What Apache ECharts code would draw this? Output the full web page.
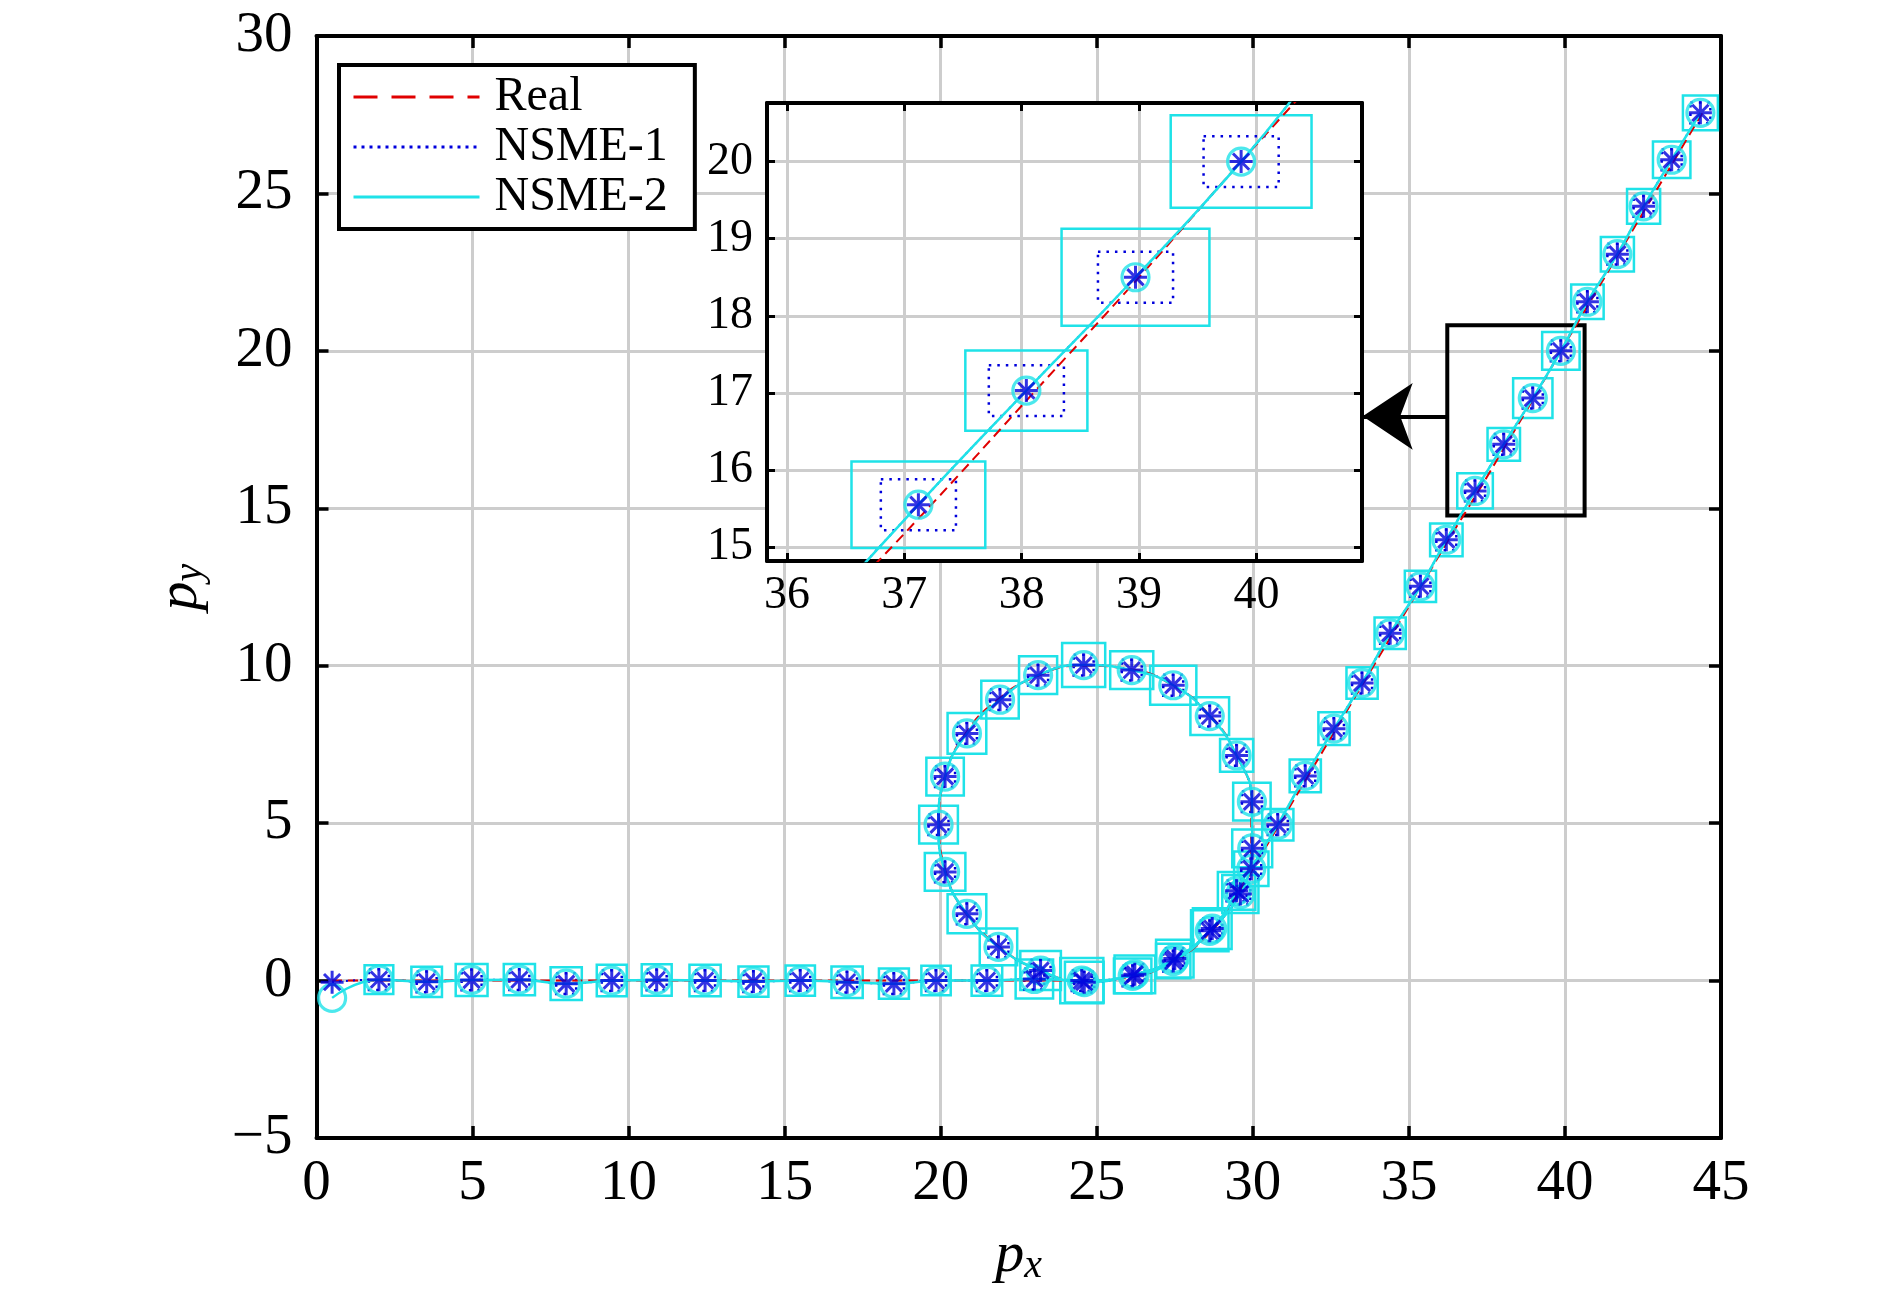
<!DOCTYPE html>
<html>
<head>
<meta charset="utf-8">
<script src="https://cdn.jsdelivr.net/npm/echarts@6/dist/echarts.min.js"></script>
<style>
html, body { margin: 0; padding: 0; background: #fff; }
#chart { width: 1890px; height: 1303px; }
</style>
</head>
<body>
<div id="chart"></div>
<script>
var FONT = 'Liberation Serif';
var CYAN = '#1fe2e8';
var BLUE = '#0000dc';
var RED = '#e00000';

// true trajectory
var realPath = [
  [0.5, 0], [2, 0], [3.5, 0], [5, 0], [6.5, 0], [8, 0], [9.5, 0], [11, 0], [12.5, 0], [14, 0],
  [15.5, 0], [17, 0], [18.5, 0], [20, 0], [21.5, 0], [23, 0], [24.5, 0],
  [26.0, 0.1], [27.4, 0.6], [28.6, 1.5], [29.5, 2.8], [29.95, 4.2], [29.95, 5.7], [29.45, 7.2],
  [28.6, 8.45], [27.4, 9.4], [26.0, 9.9], [24.5, 10.0], [23.05, 9.65], [21.8, 8.9], [20.8, 7.85],
  [20.15, 6.5], [19.95, 5.0], [20.15, 3.5], [20.8, 2.15], [21.85, 1.1], [23.1, 0.35], [24.55, 0],
  [26.05, 0.12], [27.45, 0.62], [28.6, 1.5], [29.4, 2.55],
  [30.0, 3.55], [30.9, 5.05], [31.8, 6.55], [32.7, 8.05], [33.6, 9.55], [34.5, 11.05], [35.4, 12.55],
  [36.3, 14.05], [37.2, 15.5], [38.1, 17.0], [39.0, 18.5], [39.9, 20.05], [40.8, 21.55],
  [41.7, 23.05], [42.6, 24.55], [43.5, 26.05], [44.4, 27.55]
];

// NSME-1 estimates (asterisks)
var nsme1Pts = [
  [0.5, -0.05], [2.0, 0.03], [3.53, -0.04], [4.97, 0.02], [6.5, 0.03], [8.0, -0.1], [9.46, 0.0],
  [10.9, 0.02], [12.45, 0.0], [14.0, -0.03], [15.5, 0.0], [17.0, -0.05], [18.5, -0.1], [19.85, 0.0],
  [21.48, 0.0], [23.0, 0.05], [24.52, 0.0], [26.15, 0.15], [27.45, 0.62], [28.62, 1.58], [29.48, 2.85],
  [29.98, 4.2], [29.97, 5.68], [29.48, 7.15], [28.62, 8.4], [27.45, 9.38], [26.12, 9.86], [24.58, 10.02],
  [23.12, 9.7], [21.9, 8.92], [20.84, 7.85], [20.14, 6.48], [19.93, 4.95], [20.14, 3.45], [20.84, 2.12],
  [21.85, 1.07], [23.2, 0.32], [24.6, -0.05], [26.22, 0.2], [27.5, 0.7], [28.7, 1.65], [29.6, 2.75],
  [29.95, 3.55], [30.8, 4.95], [31.68, 6.5], [32.6, 8.0], [33.5, 9.45], [34.4, 11.03], [35.37, 12.52],
  [36.2, 14.0], [37.12, 15.55], [38.04, 17.03], [38.97, 18.5], [39.87, 20.0], [40.72, 21.56],
  [41.68, 23.07], [42.52, 24.59], [43.42, 26.07], [44.34, 27.56]
];

// NSME-2 estimates (circles)
var nsme2Pts = [
  [0.5, -0.55], [2.0, 0.03], [3.53, -0.04], [4.97, 0.02], [6.5, 0.03], [8.0, -0.1], [9.46, 0.0],
  [10.9, 0.02], [12.45, 0.0], [14.0, -0.03], [15.5, 0.0], [17.0, -0.05], [18.5, -0.1], [19.85, 0.0],
  [21.48, 0.0], [23.0, 0.05], [24.52, 0.0], [26.15, 0.15], [27.45, 0.62], [28.62, 1.58], [29.48, 2.85],
  [29.98, 4.2], [29.97, 5.68], [29.48, 7.15], [28.62, 8.4], [27.45, 9.38], [26.12, 9.86], [24.58, 10.02],
  [23.12, 9.7], [21.9, 8.92], [20.84, 7.85], [20.14, 6.48], [19.93, 4.95], [20.14, 3.45], [20.84, 2.12],
  [21.85, 1.07], [23.2, 0.32], [24.6, -0.05], [26.22, 0.2], [27.5, 0.7], [28.7, 1.65], [29.6, 2.75],
  [29.95, 3.55], [30.8, 4.95], [31.68, 6.5], [32.6, 8.0], [33.5, 9.45], [34.4, 11.03], [35.37, 12.52],
  [36.2, 14.0], [37.12, 15.55], [38.04, 17.03], [38.97, 18.5], [39.87, 20.0], [40.72, 21.56],
  [41.68, 23.07], [42.52, 24.59], [43.42, 26.07], [44.34, 27.56]
];

// NSME-2 bound half widths / half heights
var nsme2Half = [
  [0, 0], [0.46, 0.46], [0.49, 0.48], [0.51, 0.51], [0.5, 0.5], [0.5, 0.52], [0.48, 0.5], [0.48, 0.5],
  [0.5, 0.5], [0.48, 0.48], [0.47, 0.48], [0.5, 0.5], [0.48, 0.48], [0.47, 0.47], [0.49, 0.48],
  [0.6, 0.62], [0.69, 0.72], [0.6, 0.55], [0.55, 0.55], [0.6, 0.65], [0.6, 0.6], [0.64, 0.6],
  [0.6, 0.6], [0.53, 0.52], [0.62, 0.6], [0.74, 0.62], [0.69, 0.6], [0.69, 0.7], [0.61, 0.6],
  [0.6, 0.6], [0.62, 0.65], [0.6, 0.6], [0.62, 0.6], [0.65, 0.6], [0.62, 0.62], [0.6, 0.58],
  [0.65, 0.62], [0.62, 0.65], [0.65, 0.6], [0.6, 0.6], [0.62, 0.65], [0.58, 0.6], [0.55, 0.55],
  [0.5, 0.5], [0.5, 0.52], [0.5, 0.52], [0.5, 0.5], [0.5, 0.5], [0.5, 0.5], [0.52, 0.52],
  [0.57, 0.56], [0.52, 0.52], [0.63, 0.63], [0.6, 0.6], [0.52, 0.55], [0.53, 0.55], [0.53, 0.55],
  [0.6, 0.58], [0.56, 0.55]
];
// NSME-1 bound half width / half height
var nsme1Half = [0.32, 0.33];

var insetXTicks = [36, 37, 38, 39, 40];
var insetYTicks = [15, 16, 17, 18, 19, 20];
var zoomBox = [[36.23, 20.81], [40.63, 14.77]];
var arrowFrom = [36.23, 17.92];
var arrowTo = [33.52, 17.92];

var nsme2Rows = nsme2Pts.map(function (p, i) { return [p[0], p[1], nsme2Half[i][0], nsme2Half[i][1]]; });
var nsme1Rows = nsme1Pts.map(function (p, i) { return i === 0 ? [p[0], p[1], 0, 0] : [p[0], p[1], nsme1Half[0], nsme1Half[1]]; });

var ASTERISK = 'path://M0,-10L0,10M-10,0L10,0M-7.07,-7.07L7.07,7.07M-7.07,7.07L7.07,-7.07';

function boxRenderer(color, dash, width) {
  return function (params, api) {
    var hw = api.value(2), hh = api.value(3);
    if (!hw) return null;
    var x = api.value(0), y = api.value(1);
    var a = api.coord([x - hw, y + hh]);
    var b = api.coord([x + hw, y - hh]);
    return {
      type: 'rect',
      shape: { x: a[0], y: a[1], width: b[0] - a[0], height: b[1] - a[1] },
      style: { fill: 'none', stroke: color, lineWidth: width, lineDash: dash }
    };
  };
}

function layerSeries(xi, yi, zl, main) {
  var base = { xAxisIndex: xi, yAxisIndex: yi, zlevel: zl, silent: true };
  var real = Object.assign({
    type: 'line', name: 'Real', data: realPath, symbol: 'none', smooth: 0.5,
    itemStyle: { color: RED }, lineStyle: { color: RED, width: 2, type: [10, 6] }, z: 3
  }, base);
  if (main) {
    real.markArea = {
      silent: true,
      itemStyle: { color: 'rgba(0,0,0,0)', borderColor: '#000', borderWidth: 4 },
      data: [[{ coord: zoomBox[0] }, { coord: zoomBox[1] }]]
    };
    real.markLine = {
      silent: true, symbol: ['none', 'arrow'], symbolSize: 50,
      label: { show: false },
      lineStyle: { color: '#000', width: 4, type: 'solid' },
      data: [[{ coord: arrowFrom }, { coord: arrowTo }]]
    };
  }
  return [
    Object.assign({ type: 'custom', name: 'NSME-2 bound', renderItem: boxRenderer(CYAN, null, 2.5),
      data: nsme2Rows, encode: { x: 0, y: 1 }, clip: true, z: 1 }, base),
    Object.assign({ type: 'custom', name: 'NSME-1 bound', renderItem: boxRenderer(BLUE, [2.5, 6], 2.5),
      data: nsme1Rows, encode: { x: 0, y: 1 }, clip: true, z: 2 }, base),
    real,
    Object.assign({ type: 'line', name: 'NSME-1', data: nsme1Pts, symbol: 'none', smooth: 0.5,
      itemStyle: { color: BLUE }, lineStyle: { color: BLUE, width: 2, type: [2, 5] }, z: 3 }, base),
    Object.assign({ type: 'line', name: 'NSME-2', data: nsme2Pts, symbol: 'none', smooth: 0.5,
      itemStyle: { color: CYAN }, lineStyle: { color: CYAN, width: 2.5 }, z: 4 }, base),
    Object.assign({ type: 'scatter', name: 'NSME-2 est', data: nsme2Pts, symbol: 'circle', symbolSize: 27,
      itemStyle: { color: 'rgba(0,0,0,0)', borderColor: CYAN, borderWidth: 3.2 }, z: 5 }, base),
    Object.assign({ type: 'scatter', name: 'NSME-1 est', data: nsme1Pts, symbol: ASTERISK, symbolSize: 23,
      itemStyle: { color: 'rgba(0,0,0,0)', borderColor: BLUE, borderWidth: 3 }, z: 6 }, base)
  ];
}

function minus(v) { return String(v).replace('-', '\u2212'); }

var nameRich = {
  p: { fontFamily: FONT, fontStyle: 'italic', fontSize: 58, lineHeight: 60, color: '#000' },
  s: { fontFamily: FONT, fontStyle: 'italic', fontSize: 40, lineHeight: 30, verticalAlign: 'bottom', color: '#000' }
};

var axisLineMain = { show: true, onZero: false, lineStyle: { color: '#000', width: 4 } };
var tickMain = { show: true, inside: true, length: 12, lineStyle: { color: '#000', width: 3.5 } };
var gridLine = { show: true, lineStyle: { color: '#cdcdcd', width: 3 } };
var labelMain = { fontFamily: FONT, fontSize: 57, color: '#000' };

var axisLineInset = { show: true, onZero: false, lineStyle: { color: '#000', width: 4 } };
var tickInsetX = { show: true, inside: true, length: 8, customValues: insetXTicks, lineStyle: { color: '#000', width: 3 } };
var tickInsetY = { show: true, inside: true, length: 8, customValues: insetYTicks, lineStyle: { color: '#000', width: 3 } };

var noSymbolStyle = { color: 'rgba(0,0,0,0)', borderColor: 'rgba(0,0,0,0)', borderWidth: 0 };

var option = {
  animation: false,
  backgroundColor: '#fff',
  grid: [
    { left: 316.5, top: 36, right: 169, bottom: 165, show: false },
    { left: 767, top: 103, width: 595, height: 458, show: true, backgroundColor: '#fff', borderWidth: 0, zlevel: 1 }
  ],
  legend: {
    left: 339, top: 65, orient: 'vertical', selectedMode: false,
    itemWidth: 126, itemHeight: 20, itemGap: 0,
    padding: [7, 27, 7, 13],
    borderColor: '#000', borderWidth: 4, backgroundColor: '#fff',
    itemStyle: noSymbolStyle,
    textStyle: { fontFamily: FONT, fontSize: 48, color: '#000', lineHeight: 50, padding: [0, 0, 0, 10] },
    data: [
      { name: 'Real', itemStyle: noSymbolStyle, lineStyle: { width: 3, type: [24, 14] } },
      { name: 'NSME-1', itemStyle: noSymbolStyle, lineStyle: { width: 3, type: [3, 5] } },
      { name: 'NSME-2', itemStyle: noSymbolStyle, lineStyle: { width: 3 } }
    ]
  },
  xAxis: [
    { type: 'value', gridIndex: 0, position: 'bottom', min: 0, max: 45, interval: 5,
      axisLine: axisLineMain, axisTick: tickMain, splitLine: gridLine,
      axisLabel: Object.assign({ margin: 18 }, labelMain),
      name: '{p|p}{s|x}', nameLocation: 'middle', nameGap: 88, nameTextStyle: { rich: nameRich } },
    { type: 'value', gridIndex: 0, position: 'top', min: 0, max: 45, interval: 5,
      axisLine: axisLineMain, axisTick: tickMain, splitLine: { show: false }, axisLabel: { show: false } },
    { type: 'value', gridIndex: 1, position: 'bottom', min: 35.83, max: 40.9, zlevel: 1,
      axisLine: axisLineInset, axisTick: tickInsetX,
      splitLine: { show: true, lineStyle: { color: '#cdcdcd', width: 3 } },
      axisLabel: { customValues: insetXTicks, margin: 12, fontFamily: FONT, fontSize: 46, color: '#000' } },
    { type: 'value', gridIndex: 1, position: 'top', min: 35.83, max: 40.9, zlevel: 1,
      axisLine: axisLineInset, axisTick: tickInsetX, splitLine: { show: false }, axisLabel: { show: false } }
  ],
  yAxis: [
    { type: 'value', gridIndex: 0, position: 'left', min: -5, max: 30, interval: 5,
      axisLine: axisLineMain, axisTick: tickMain, splitLine: gridLine,
      axisLabel: Object.assign({ margin: 24, formatter: minus }, labelMain),
      name: '{p|p}{s|y}', nameLocation: 'middle', nameGap: 106, nameRotate: 90, nameTextStyle: { rich: nameRich } },
    { type: 'value', gridIndex: 0, position: 'right', min: -5, max: 30, interval: 5,
      axisLine: axisLineMain, axisTick: tickMain, splitLine: { show: false }, axisLabel: { show: false } },
    { type: 'value', gridIndex: 1, position: 'left', min: 14.82, max: 20.76, zlevel: 1,
      axisLine: axisLineInset, axisTick: tickInsetY,
      splitLine: { show: true, lineStyle: { color: '#cdcdcd', width: 3 } },
      axisLabel: { customValues: insetYTicks, margin: 14, fontFamily: FONT, fontSize: 46, color: '#000' } },
    { type: 'value', gridIndex: 1, position: 'right', min: 14.82, max: 20.76, zlevel: 1,
      axisLine: axisLineInset, axisTick: tickInsetY, splitLine: { show: false }, axisLabel: { show: false } }
  ],
  series: layerSeries(0, 0, 0, true).concat(layerSeries(2, 2, 1, false))
};

var chart = echarts.init(document.getElementById('chart'), null, { renderer: 'canvas' });
chart.setOption(option);
</script>
</body>
</html>
